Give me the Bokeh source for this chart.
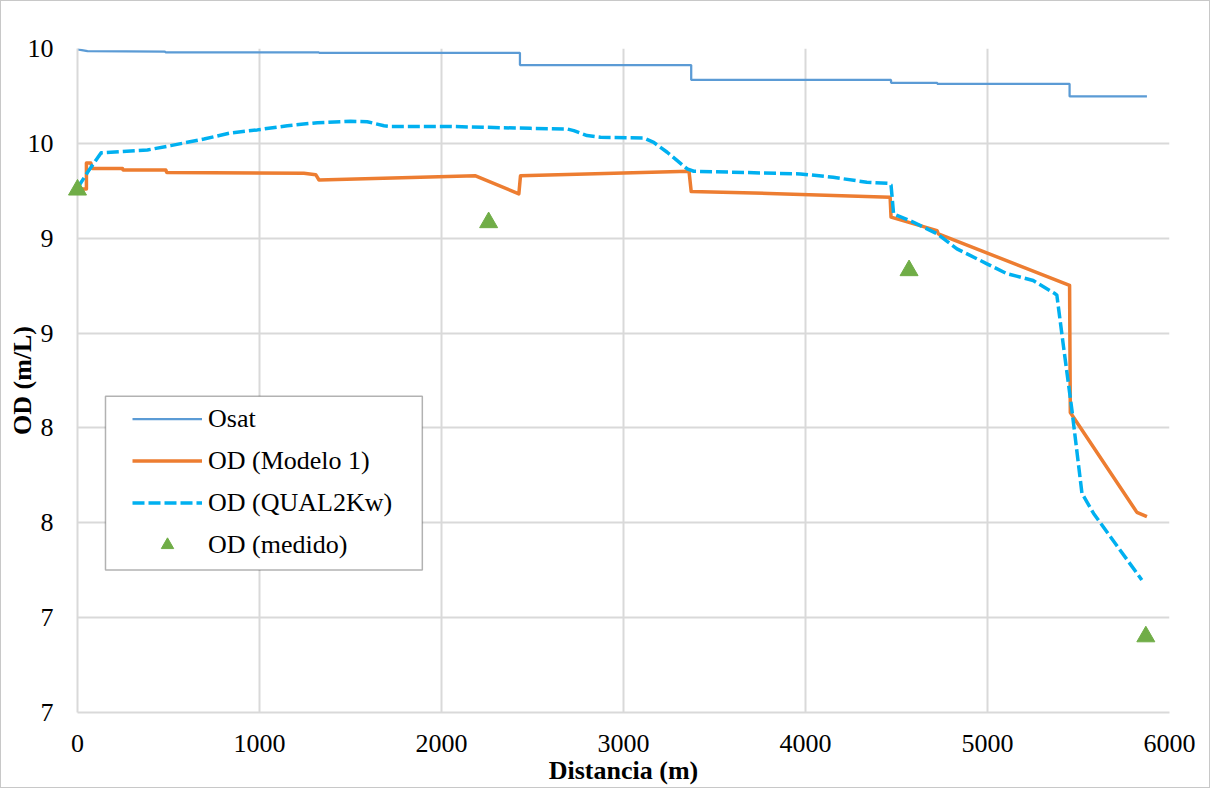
from bokeh.plotting import figure
from bokeh.models import Range1d, FixedTicker, Legend, LegendItem, BoxAnnotation
from bokeh.embed import file_html
from bokeh.resources import INLINE

# ---- data ----
x_ticks = [0, 1000, 2000, 3000, 4000, 5000, 6000]
y_ticks = [6.5, 7.0, 7.5, 8.0, 8.5, 9.0, 9.5, 10.0]
y_tick_labels = ["7", "7", "8", "8", "9", "9", "10", "10"]

osat_x = [0, 55, 480, 485, 1327, 1327, 2431, 2431, 3372, 3372, 4470, 4470, 4724, 4724, 5451, 5451, 5876]
osat_y = [9.995, 9.986, 9.984, 9.980, 9.979, 9.977, 9.977, 9.913, 9.913, 9.834, 9.834, 9.819, 9.819, 9.814, 9.814, 9.747, 9.747]

mod_x = [0, 49, 49, 73, 82, 247, 250, 485, 490, 1244, 1309, 1327, 2187, 2425, 2434, 3360, 3372, 3800, 4465, 4470, 4723, 4730, 5451, 5455, 5821, 5876]
mod_y = [9.26, 9.26, 9.397, 9.397, 9.368, 9.368, 9.36, 9.36, 9.347, 9.342, 9.335, 9.307, 9.329, 9.234, 9.329, 9.353, 9.246, 9.236, 9.216, 9.111, 9.04, 9.023, 8.751, 8.081, 7.555, 7.532]

q2k_x = [0, 64, 130, 384, 512, 695, 842, 988, 1153, 1318, 1501, 1592, 1684, 1720, 2050, 2489, 2691, 2727, 2800, 2874, 3111, 3166, 3240, 3350, 3386, 3972, 4152, 4337, 4455, 4470, 4484, 4594, 4723, 4832, 4997, 5107, 5251, 5372, 5381, 5418, 5464, 5519, 5583, 5848]
q2k_y = [9.265, 9.36, 9.45, 9.465, 9.488, 9.523, 9.555, 9.571, 9.593, 9.609, 9.616, 9.614, 9.593, 9.589, 9.589, 9.579, 9.576, 9.567, 9.541, 9.532, 9.528, 9.505, 9.453, 9.365, 9.353, 9.339, 9.321, 9.295, 9.289, 9.28, 9.128, 9.084, 9.023, 8.944, 8.865, 8.813, 8.777, 8.707, 8.70, 8.426, 8.093, 7.655, 7.549, 7.198]

med_x = [0, 2259, 4569, 5870]
med_y = [9.255, 9.083, 8.83, 6.90]

FONT = "Liberation Serif"
GRID = "#D9D9D9"

p = figure(width=1210, height=788, output_backend="svg", toolbar_location=None,
           x_range=Range1d(0, 6000), y_range=Range1d(6.5, 10.0),
           min_border_left=76, min_border_right=42, min_border_top=47, min_border_bottom=77)
p.styles = {"border": "1px solid #C8C8C8"}
p.outline_line_color = None
p.background_fill_color = "white"
p.border_fill_color = "white"

# axes
p.xaxis.ticker = FixedTicker(ticks=x_ticks)
p.yaxis.ticker = FixedTicker(ticks=y_ticks)
p.yaxis.major_label_overrides = {t: l for t, l in zip(y_ticks, y_tick_labels)}
for ax in (p.xaxis, p.yaxis):
    ax.axis_line_color = GRID
    ax.axis_line_width = 2
    ax.major_tick_line_color = None
    ax.minor_tick_line_color = None
    ax.major_tick_out = 0
    ax.major_tick_in = 0
    ax.minor_tick_out = 0
    ax.major_label_text_font = FONT
    ax.major_label_text_font_size = "26px"
    ax.major_label_text_color = "black"
    ax.axis_label_text_font = FONT
    ax.axis_label_text_font_size = "26px"
    ax.axis_label_text_font_style = "bold"
    ax.axis_label_text_color = "black"
p.xaxis.axis_label = "Distancia (m)"
p.yaxis.axis_label = "OD (m/L)"
p.xaxis.major_label_standoff = 22
p.xaxis.axis_label_standoff = 1
p.yaxis.major_label_standoff = 24
p.yaxis.axis_label_standoff = -12

p.xgrid.ticker = FixedTicker(ticks=x_ticks)
p.ygrid.ticker = FixedTicker(ticks=y_ticks)
for g in (p.xgrid, p.ygrid):
    g.grid_line_color = GRID
    g.grid_line_width = 2

# series
r_osat = p.line(osat_x, osat_y, line_color="#5B9BD5", line_width=2.25)
r_mod = p.line(mod_x, mod_y, line_color="#ED7D31", line_width=3.5, line_join="round")
r_q2k = p.line(q2k_x, q2k_y, line_color="#00B0F0", line_width=3.5, line_dash="12 4", line_join="round")
r_med = p.scatter(med_x, med_y, marker="triangle", size=18, fill_color="#70AD47", line_color="#70AD47",
                  level="overlay")

# legend frame (white box with black border), then legend entries on top
box = BoxAnnotation(left=153.8, right=1894.6, top=8.167, bottom=7.251,
                    fill_color="white", fill_alpha=1.0, line_color="black", line_width=1.5)
p.add_layout(box)

legend = Legend(items=[
    LegendItem(label="Osat", renderers=[r_osat]),
    LegendItem(label="OD (Modelo 1)", renderers=[r_mod]),
    LegendItem(label="OD (QUAL2Kw)", renderers=[r_q2k]),
    LegendItem(label="OD (medido)", renderers=[r_med]),
], location=(48, 145))
legend.border_line_alpha = 0
legend.background_fill_alpha = 0
legend.padding = 7
legend.spacing = 11
legend.glyph_width = 70
legend.glyph_height = 31
legend.label_height = 31
legend.label_standoff = 6
legend.label_text_font = FONT
legend.label_text_font_size = "26px"
legend.label_text_color = "black"
p.add_layout(legend)

open("out.html", "w").write(file_html(p, INLINE))
